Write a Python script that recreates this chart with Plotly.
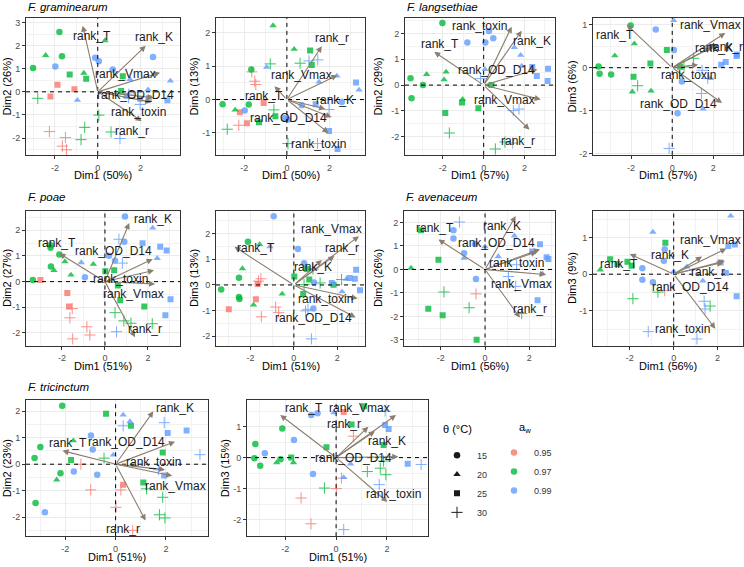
import plotly.graph_objects as go

W, H = 744, 567

VARS = ["rank_T", "rank_K", "rank_Vmax", "rank_r", "rank_OD_D14", "rank_toxin"]
TEMPS = [15, 20, 25, 30]
AWS = [0.95, 0.97, 0.99]
X_TICKS = [-2, 0, 2]

# ---------------- individuals (Dim1, Dim2, Dim3) ----------------
gram_temp = [15, 15, 15, 20, 20, 20, 25, 25, 25, 25, 25, 25, 25, 30, 30, 30, 30, 30, 30, 30, 30, 30,
             15, 15, 15, 15, 15, 20, 20, 20, 20, 25, 25, 25, 25, 30, 30, 30, 30]
gram_aw = [0.97, 0.97, 0.97, 0.97, 0.97, 0.97, 0.97, 0.97, 0.97, 0.97, 0.95, 0.95, 0.95,
           0.97, 0.97, 0.97, 0.97, 0.97, 0.95, 0.95, 0.95, 0.95,
           0.99, 0.99, 0.99, 0.99, 0.99, 0.99, 0.99, 0.99, 0.99, 0.99, 0.99, 0.99, 0.99, 0.99, 0.99, 0.99, 0.99]
gram_d1 = [-3.02, -1.67, -1.79, -2.43, 0.34, -0.65, -1.31, -0.54, 1.17, 1.09, -1.88, -1.09, -2.21,
           -2.80, 0.05, -0.61, -0.78, 0.62, -2.26, -1.51, -1.65, -1.46,
           -1.98, -0.12, 0.05, 0.70, 2.58, -0.95, 1.51, 3.39, 2.35, 3.25, 1.98, 2.38, 1.35, 1.04, 1.45, 1.98, 1.44]
gram_d2 = [1.03, 1.54, 2.59, 1.58, 2.22, 0.81, 0.75, 0.57, 0.67, 0.04, 0.31, 0.11, -0.20,
           -0.28, -1.01, -1.54, -2.07, -1.74, -1.72, -1.98, -2.35, -2.51,
           1.10, 1.47, 1.32, 0.97, 1.51, -0.36, 0.54, 0.47, 0.09, -0.36, -0.30, -0.28, -0.17, -2.02, -0.10, -0.55, -0.25]
gram_d3 = [-0.14, 0.90, -0.15, -0.31, 1.51, 2.22, -0.68, -0.50, 1.04, 1.47, -0.71, -0.10, -0.38,
           -0.89, -1.32, -0.31, 1.07, 1.09, -0.77, 0.55, 0.83, 0.45,
           -0.33, -0.55, -0.60, -0.17, -0.07, 0.97, 0.53, 0.29, 0.71, 0.51, -0.94, -1.48, -0.14, 1.16, 1.19, -0.30, -1.32]

lang_temp = [15, 15, 15, 15, 20, 20, 20, 20, 25, 25, 25, 25, 30, 30, 30,
             15, 15, 15, 15, 20, 20, 20, 20, 25, 25, 25, 25, 30, 30, 30, 30]
lang_aw = [0.97] * 15 + [0.99] * 16
lang_d1 = [-2.02, -3.58, -3.53, -2.97, -2.79, -1.84, -1.94, -1.03, -1.88, -0.26, -1.06, 0.38, -1.68, 0.57, 1.04,
           -0.80, 0.08, 0.26, 0.47, 0.07, 1.50, 1.81, 1.86, 2.38, 2.60, 3.15, 3.13, -0.15, 1.45, 1.73, 1.42]
lang_d2 = [2.41, 0.27, -0.51, 0.00, 0.42, 0.51, 0.21, -0.55, -1.08, -0.90, -0.68, 0.00, -1.86, -2.48, -2.21,
           1.65, 1.65, 2.10, 1.82, 0.61, 1.46, 1.16, 0.74, 0.70, 0.35, 0.63, 0.16, 0.25, -0.99, -0.93, -2.25]
lang_d3 = [0.98, 0.03, -0.14, -0.16, 0.28, 0.56, -0.56, -0.54, -0.21, 0.41, 0.10, 0.02, -0.42, 0.02, 0.22,
           0.89, 0.41, -1.06, -0.32, 1.10, -0.96, 0.48, -0.25, 0.07, 0.13, 0.31, 0.27, -1.88, -0.06, -0.25, -0.60]

poae_temp = [15, 15, 15, 15, 15, 20, 20, 20, 20, 25, 25, 25, 25, 25, 30, 30, 30, 30,
             25, 25, 25, 30, 30, 30, 30, 30,
             15, 15, 15, 15, 15, 20, 20, 20, 25, 25, 25, 25, 25, 30, 30, 30]
poae_aw = [0.97] * 18 + [0.95] * 8 + [0.99] * 16
poae_d1 = [-2.12, -2.53, -2.53, -2.51, -3.35, -1.86, -2.37, -1.58, -0.54, 0.02, 0.43, 0.60, 0.71, 1.83,
           0.47, 0.88, 1.21, 2.20,
           -3.00, -1.67, -1.75, -1.52, -1.63, -0.84, -0.70, -1.50,
           -0.93, 0.19, 0.47, 0.90, 0.93, -1.10, 2.22, 2.43, 1.75, 2.57, 2.87, 3.05, 2.81, 0.65, 0.81, 0.54]
poae_d2 = [1.06, 1.42, 1.32, 0.59, 0.06, 0.78, 0.44, 0.26, 0.68, 0.40, 0.44, -0.15, -0.73, -0.97,
           -1.21, -1.53, -1.62, -1.64,
           0.06, -0.97, -0.44, -1.05, -1.41, -1.76, -2.08, -2.23,
           0.17, 1.01, 0.81, 1.55, 2.54, 0.74, 2.09, 0.91, 1.49, 1.36, 1.21, -0.69, -1.31, 1.65, 0.72, -1.95]
poae_d3 = [1.68, 0.28, -0.47, -0.55, -0.18, -0.78, 0.64, 1.58, -0.35, 0.33, -0.35, 0.62, 0.21, 0.01,
           0.01, 0.62, 0.08, 0.21,
           -0.95, 0.04, -0.56, 0.24, 0.15, -0.86, -1.08, -1.24,
           2.68, 1.40, 0.85, -0.92, 0.10, 1.49, -0.26, 0.23, 0.08, 0.27, 0.59, -0.21, 0.24, -0.95, -2.10, -1.01]

aven_temp = [25, 25, 25, 25, 25, 20, 30, 30, 30, 30,
             15, 15, 15, 15, 15, 20, 20, 20, 20, 20, 25, 25, 25, 25, 25, 30, 30, 30, 30]
aven_aw = [0.97] * 9 + [0.95] + [0.99] * 19
aven_d1 = [-2.90, -2.11, -2.57, -1.92, -0.38, -3.35, -1.86, -0.72, 1.66, -0.41,
           -1.43, -1.43, -0.95, -0.41, -0.45, -0.95, 0.00, 2.60, 1.33, 0.60,
           2.49, 2.14, 2.79, 2.87, 2.38, -1.16, 1.43, 1.06, 1.39]
aven_d2 = [1.67, 0.41, -1.67, -1.95, -2.99, 0.06, -0.96, -1.63, -1.88, -1.04,
           1.67, 1.32, 0.69, -0.41, 1.08, 0.48, 0.97, -0.18, 1.43, 0.55,
           1.07, 0.76, 0.52, 0.44, -1.31, 2.02, 0.20, -0.30, -0.72]
aven_d3 = [0.41, 0.34, 0.28, 0.23, 0.86, 0.12, -0.67, -0.49, -0.87, -0.45,
           0.16, -0.15, -0.22, 0.68, 0.37, 1.15, 0.07, 1.59, -0.18, 0.20,
           0.77, 0.32, 0.81, -0.60, 0.03, -1.57, -0.95, -1.77, -0.74]

tric_temp = [15, 15, 15, 15, 15, 20, 20, 25, 25, 25, 25, 25, 30, 30, 30, 30, 30,
             25, 30, 30, 30, 30, 30,
             15, 15, 15, 15, 15, 20, 20, 20, 25, 25, 25, 30, 30, 30, 30]
tric_aw = [0.97] * 17 + [0.95] * 6 + [0.99] * 15
tric_d1 = [-2.12, -3.18, -3.22, -2.99, -2.19, -1.68, -2.34, -0.38, 0.61, -1.77, 1.87, 1.10,
           -0.46, 1.23, 1.87, 1.74, 1.96,
           0.30, -1.38, -0.99, 0.01, 0.21, 0.68,
           -2.81, -1.66, -0.98, -0.73, -0.91, -0.09, 0.30, 0.57, 2.07, 2.82, 1.93, 0.30, 1.93, 1.70, 3.35]
tric_d2 = [2.21, -1.47, 0.23, 0.65, -0.34, 0.89, -0.59, 1.91, 1.45, 0.16, 0.44, -0.69,
           0.23, -0.93, -1.25, -1.91, -2.03,
           -0.78, 0.00, -0.97, -1.63, -0.97, -2.50,
           -1.82, -0.28, 1.08, -0.40, 0.56, 0.35, 1.86, 1.61, 1.18, 1.27, -0.43, 1.45, 1.57, -0.21, 0.36]
tric_d3 = [0.94, 0.44, -0.02, -0.26, -0.05, -0.16, -0.16, 0.33, 1.07, 0.00, 0.41, 1.65,
           -0.98, -0.45, -0.11, -0.34, -0.55,
           1.47, -1.30, -2.13, -1.00, -0.66, 0.69,
           0.14, 0.57, 1.37, 1.43, -0.53, 1.45, -0.64, -0.20, 0.92, -0.20, 1.05, -2.32, 1.50, -0.87, -0.22]

# ---------------- variable arrows (order = VARS) ----------------
gram_ld12_x = [-0.70, 2.24, 2.91, 2.05, 2.60, 2.50]
gram_ld12_y = [2.86, 1.99, 0.83, -1.27, -0.25, -0.45]
gram_ld13_x = [-0.58, 1.80, 2.37, 1.64, 2.10, 1.95]
gram_ld13_y = [0.40, -0.28, 0.73, 1.60, -0.53, -1.00]

lang_ld12_x = [-2.42, 1.86, 2.79, 2.24, 2.63, 1.37]
lang_ld12_y = [1.29, 2.11, -0.56, -1.73, 0.61, 2.27]
lang_ld13_x = [-2.21, 1.90, 2.58, 2.20, 2.42, 1.26]
lang_ld13_y = [1.00, 0.47, 0.81, 0.55, -0.82, 0.07]

poae_ld12_x = [-2.12, 1.13, 2.33, 1.40, 2.22, 2.28]
poae_ld12_y = [1.10, 2.28, -0.09, -2.17, 0.88, 0.44]
poae_ld13_x = [-2.74, 1.29, 3.00, 1.87, 2.85, 2.94]
poae_ld13_y = [1.49, 0.97, 1.90, 1.13, -1.27, -0.53]

aven_ld12_x = [-2.11, 1.39, 2.75, 1.58, 2.49, 2.35]
aven_ld12_y = [1.28, 2.28, -0.22, -2.05, 0.86, 0.75]
aven_ld13_x = [-2.00, 1.29, 2.40, 2.33, 2.25, 1.90]
aven_ld13_y = [0.55, 0.48, 0.70, 0.36, 0.32, -1.49]

tric_ld12_x = [-2.11, 1.50, 2.25, 1.19, 2.36, 1.96]
tric_ld12_y = [0.51, 2.00, -0.44, -2.13, 0.85, -0.21]
tric_ld13_x = [-2.20, 1.53, 2.36, 1.27, 2.45, 2.02]
tric_ld13_y = [1.37, 0.85, 1.37, 0.99, 0.03, -1.43]

# repelled label anchors (data units, order = VARS)
gram_lb12 = [(-0.25, 2.42), (2.63, 2.36), (1.28, 0.78), (1.59, -1.71), (1.74, -0.14), (1.90, -0.88)]
gram_lb13 = [(-1.06, 0.11), (2.27, -0.01), (0.70, 0.73), (2.11, 1.86), (0.08, -0.55), (1.48, -1.32)]
lang_lb12 = [(-2.14, 1.59), (2.38, 1.71), (1.04, -0.59), (1.70, -2.16), (0.64, 0.57), (-0.18, 2.31)]
lang_lb13 = [(-2.80, 0.77), (2.03, 0.45), (1.85, 1.00), (2.63, 0.48), (0.32, -0.84), (0.77, -0.17)]
poae_lb12 = [(-2.25, 1.49), (2.22, 2.42), (1.32, -0.47), (1.86, -1.85), (0.39, 1.19), (0.73, 0.12)]
poae_lb13 = [(-1.73, 1.45), (0.90, 0.68), (1.75, 2.19), (2.21, 1.45), (0.90, -1.27), (1.44, -0.56)]
aven_lb12 = [(-2.26, 1.77), (0.78, 1.85), (1.66, -0.60), (2.04, -1.70), (0.53, 1.11), (1.43, 0.27)]
aven_lb13 = [(-2.51, 0.27), (-0.15, 0.52), (1.67, 0.93), (1.57, 0.07), (0.78, -0.36), (0.40, -1.50)]
tric_lb12 = [(-1.91, 0.82), (2.36, 2.11), (2.36, -0.82), (0.30, -2.45), (0.44, 0.83), (1.50, 0.10)]
tric_lb13 = [(-1.26, 1.60), (1.99, 0.54), (0.92, 1.60), (0.31, 1.08), (0.68, 0.00), (2.26, -1.16)]

SPECIES = {
    "gram": dict(name="F. graminearum", pct=[50, 26, 13], temp=gram_temp, aw=gram_aw,
                 d=[gram_d1, gram_d2, gram_d3],
                 ld={2: (gram_ld12_x, gram_ld12_y, gram_lb12), 3: (gram_ld13_x, gram_ld13_y, gram_lb13)}),
    "lang": dict(name="F. langsethiae", pct=[57, 29, 6], temp=lang_temp, aw=lang_aw,
                 d=[lang_d1, lang_d2, lang_d3],
                 ld={2: (lang_ld12_x, lang_ld12_y, lang_lb12), 3: (lang_ld13_x, lang_ld13_y, lang_lb13)}),
    "poae": dict(name="F. poae", pct=[51, 27, 13], temp=poae_temp, aw=poae_aw,
                 d=[poae_d1, poae_d2, poae_d3],
                 ld={2: (poae_ld12_x, poae_ld12_y, poae_lb12), 3: (poae_ld13_x, poae_ld13_y, poae_lb13)}),
    "aven": dict(name="F. avenaceum", pct=[56, 26, 9], temp=aven_temp, aw=aven_aw,
                 d=[aven_d1, aven_d2, aven_d3],
                 ld={2: (aven_ld12_x, aven_ld12_y, aven_lb12), 3: (aven_ld13_x, aven_ld13_y, aven_lb13)}),
    "tric": dict(name="F. tricinctum", pct=[51, 23, 15], temp=tric_temp, aw=tric_aw,
                 d=[tric_d1, tric_d2, tric_d3],
                 ld={2: (tric_ld12_x, tric_ld12_y, tric_lb12), 3: (tric_ld13_x, tric_ld13_y, tric_lb13)}),
}

# ---------------- layout of panels (pixel boxes) ----------------
# species, second dim, (left, top, right, bottom), x range, y range, y-title x, title y (or None)
PANELS = [
    ("gram", 2, (26, 18, 180, 156), (-3.35, 3.84), (-2.73, 3.20), 7, 7),
    ("gram", 3, (216, 18, 365, 156), (-3.33, 3.67), (-1.66, 2.45), 194, None),
    ("lang", 2, (405, 18, 555, 156), (-3.85, 3.49), (-2.71, 2.61), 378, 7),
    ("lang", 3, (593, 18, 743, 156), (-3.85, 3.44), (-2.03, 1.16), 572, None),
    ("poae", 2, (26, 212, 180, 348), (-3.67, 3.49), (-2.49, 2.77), 7, 198),
    ("poae", 3, (216, 212, 365, 348), (-3.59, 3.28), (-2.36, 2.90), 194, None),
    ("aven", 2, (404, 212, 555, 348), (-3.67, 3.17), (-3.24, 2.51), 378, 198),
    ("aven", 3, (593, 212, 743, 348), (-3.68, 3.16), (-1.95, 1.74), 572, None),
    ("tric", 2, (26, 403, 208, 540), (-3.56, 3.67), (-2.72, 2.42), 7, 390),
    ("tric", 3, (247, 403, 428, 540), (-3.51, 3.62), (-2.53, 1.85), 225, None),
]

COLORS = {0.95: "#F8766D", 0.97: "#00BA38", 0.99: "#619CFF"}
SYMBOLS = {15: "circle", 20: "triangle-up", 25: "square", 30: "cross-thin"}
ARROW_COLOR = "#8B7E6E"
FONT = "Liberation Sans, Arial, sans-serif"


def fx(px):
    return px / W


def fy(py):
    return 1 - py / H


def fmt(v):
    return str(int(v)) if v >= 0 else "-" + str(int(-v))


def marker_for(tp, color, opacity):
    if tp == 30:
        return dict(symbol=SYMBOLS[tp], size=8, color=color, opacity=opacity,
                    line=dict(color=color, width=1))
    return dict(symbol=SYMBOLS[tp], size=6.5 if tp != 25 else 6, color=color, opacity=opacity,
                line=dict(width=0))


fig = go.Figure()
annotations = []
shapes = []
layout_axes = {}

for k, (sp, dim, box, xr, yr, ytx, title_y) in enumerate(PANELS, start=1):
    S = SPECIES[sp]
    l, t, r, b = box
    xa = "x" if k == 1 else f"x{k}"
    ya = "y" if k == 1 else f"y{k}"
    xkey = "xaxis" if k == 1 else f"xaxis{k}"
    ykey = "yaxis" if k == 1 else f"yaxis{k}"

    yt = [v for v in range(-4, 5) if yr[0] <= v <= yr[1]]
    common = dict(showline=True, mirror=True, linecolor="#333333", linewidth=1,
                  ticks="outside", ticklen=3, tickwidth=1, tickcolor="#333333",
                  showgrid=True, gridcolor="#EBEBEB", gridwidth=1, zeroline=False,
                  tickfont=dict(size=9, color="#4D4D4D", family=FONT), tickmode="array",
                  fixedrange=True)
    layout_axes[xkey] = dict(common, domain=[fx(l), fx(r)], range=list(xr), anchor=ya,
                             tickvals=X_TICKS, ticktext=[fmt(v) for v in X_TICKS],
                             ticklabelstandoff=1,
                             minor=dict(tickmode="linear", tick0=1, dtick=2, showgrid=True,
                                        gridcolor="#F2F2F2", gridwidth=0.6, ticks=""))
    layout_axes[ykey] = dict(common, domain=[fy(b), fy(t)], range=list(yr), anchor=xa,
                             tickvals=yt, ticktext=[fmt(v) for v in yt],
                             minor=dict(tickmode="linear", tick0=0.5, dtick=1, showgrid=True,
                                        gridcolor="#F2F2F2", gridwidth=0.6, ticks=""))

    # dashed reference lines
    shapes.append(dict(type="line", xref=xa, yref=f"{ya} domain", x0=0, x1=0, y0=0, y1=1,
                       line=dict(color="black", width=1, dash="4px,4px"), layer="above"))
    shapes.append(dict(type="line", xref=f"{xa} domain", yref=ya, x0=0, x1=1, y0=0, y1=0,
                       line=dict(color="black", width=1, dash="4px,4px"), layer="above"))

    # individuals
    d1 = S["d"][0]
    dy = S["d"][dim - 1]
    for aw in AWS:
        for tp in TEMPS:
            idx = [i for i in range(len(d1)) if S["aw"][i] == aw and S["temp"][i] == tp]
            if not idx:
                continue
            fig.add_trace(go.Scatter(x=[d1[i] for i in idx], y=[dy[i] for i in idx],
                                     mode="markers", marker=marker_for(tp, COLORS[aw], 0.8),
                                     xaxis=xa, yaxis=ya, showlegend=False, hoverinfo="skip"))

    # arrows + labels
    lx, ly, lbs = S["ld"][dim]
    for j, v in enumerate(VARS):
        annotations.append(dict(x=lx[j], y=ly[j], ax=0, ay=0, xref=xa, yref=ya, axref=xa, ayref=ya,
                                text="", showarrow=True, arrowhead=2, arrowsize=1.1, arrowwidth=1.1,
                                arrowcolor=ARROW_COLOR, standoff=0, startstandoff=0))
    for j, v in enumerate(VARS):
        annotations.append(dict(x=lbs[j][0], y=lbs[j][1], xref=xa, yref=ya, text=v, showarrow=False,
                                font=dict(size=12, color="#1A1A1A", family=FONT)))

    # titles
    if title_y is not None:
        annotations.append(dict(x=fx(l), y=fy(title_y), xref="paper", yref="paper", xanchor="left",
                                yanchor="middle", text=f"<i>{S['name']}</i>", showarrow=False,
                                font=dict(size=11.5, color="black", family=FONT)))
    annotations.append(dict(x=fx((l + r) / 2), y=fy(b + 20.5), xref="paper", yref="paper",
                            xanchor="center", yanchor="middle", text=f"Dim1 ({S['pct'][0]}%)",
                            showarrow=False, font=dict(size=11, color="black", family=FONT)))
    annotations.append(dict(x=fx(ytx), y=fy((t + b) / 2), xref="paper", yref="paper",
                            xanchor="center", yanchor="middle", textangle=-90,
                            text=f"Dim{dim} ({S['pct'][dim - 1]}%)",
                            showarrow=False, font=dict(size=11, color="black", family=FONT)))

# legend titles
annotations.append(dict(x=fx(441), y=fy(432), xref="paper", yref="paper", xanchor="left",
                        yanchor="middle", text="θ (°C)", showarrow=False,
                        font=dict(size=11, color="black", family=FONT)))
annotations.append(dict(x=fx(517), y=fy(431), xref="paper", yref="paper", xanchor="left",
                        yanchor="middle", text="a<sub>w</sub>", showarrow=False,
                        font=dict(size=11, color="black", family=FONT)))

# legend entries
for tp in TEMPS:
    fig.add_trace(go.Scatter(x=[None], y=[None], mode="markers", marker=marker_for(tp, "#1A1A1A", 1),
                             name=str(tp), legend="legend", xaxis="x10", yaxis="y10",
                             showlegend=True))
for aw in AWS:
    fig.add_trace(go.Scatter(x=[None], y=[None], mode="markers",
                             marker=dict(symbol="circle", size=6.5, color=COLORS[aw], opacity=0.8),
                             name=f"{aw:.2f}", legend="legend2",
                             xaxis="x10", yaxis="y10", showlegend=True))

leg_common = dict(xanchor="left", yanchor="top", bgcolor="rgba(0,0,0,0)", itemsizing="trace",
                  font=dict(size=9, color="#333333", family=FONT), tracegroupgap=0,
                  itemwidth=30)
fig.update_layout(
    width=W, height=H, autosize=False,
    margin=dict(l=0, r=0, t=0, b=0),
    paper_bgcolor="white", plot_bgcolor="white",
    font=dict(family=FONT),
    annotations=annotations, shapes=shapes,
    legend=dict(leg_common, x=fx(437), y=fy(444)),
    legend2=dict(leg_common, x=fx(494), y=fy(441)),
    **layout_axes,
)

fig.write_html("out.html")
